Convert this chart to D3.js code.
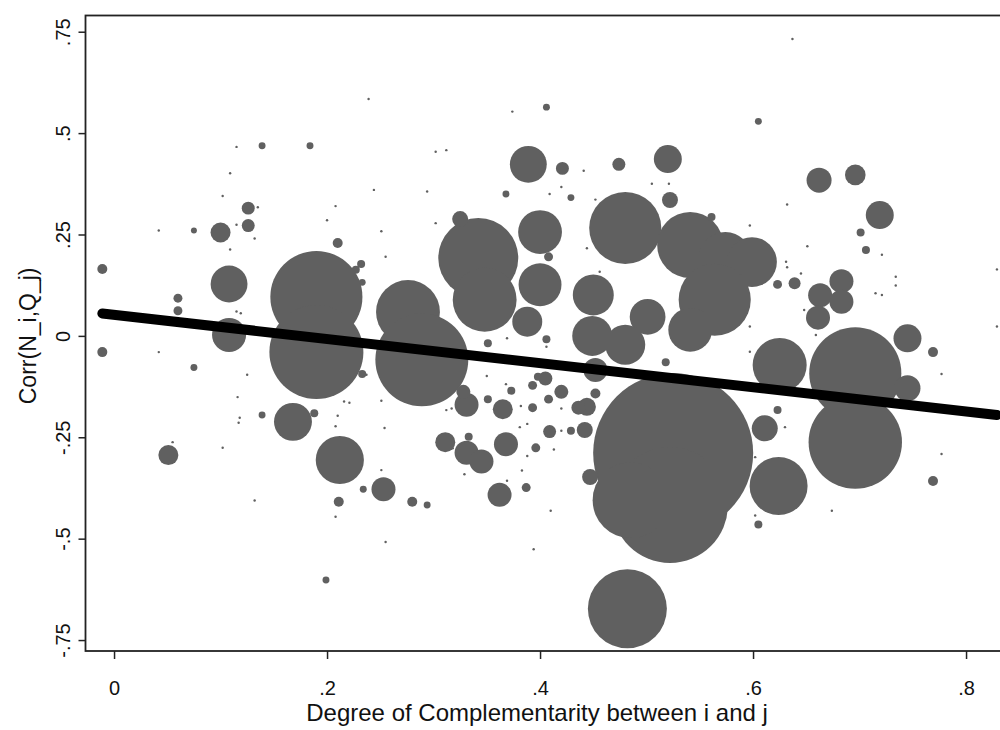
<!DOCTYPE html>
<html>
  <head>
    <title>Corr(N_i,Q_j) vs degree of complementarity</title>
    <script src="https://d3js.org/d3.v7.min.js"></script>
    <style>
      body { margin: 0; background: #fff; }
      text { font-family: "Liberation Sans", Arial, sans-serif; fill: #111; }
    </style>
  </head>
  <body>
    <div id="chart"></div>
    <script>
      // data: [complementarity, corr, weight]
      var largeBubbles = [
        [0.190, 0.096, 212], [0.190, -0.040, 221], [0.276, 0.059, 102], [0.289, -0.059, 216],
        [0.342, 0.192, 160], [0.348, 0.089, 102], [0.480, 0.266, 130], [0.541, 0.224, 109],
        [0.574, 0.192, 68], [0.599, 0.182, 62], [0.564, 0.089, 130], [0.696, -0.092, 212],
        [0.696, -0.262, 218], [0.482, -0.673, 156], [0.525, -0.289, 640], [0.522, -0.417, 336],
        [0.485, -0.405, 144], [0.625, -0.072, 73], [0.624, -0.370, 84]
      ];
      var mediumBubbles = [
        [0.108, 0.128, 34], [0.108, 0.002, 29], [0.100, 0.255, 10], [0.126, 0.315, 4.2],
        [0.126, 0.272, 4.2], [0.051, -0.294, 10], [0.168, -0.212, 36], [0.212, -0.306, 58],
        [0.253, -0.378, 14.4], [0.389, 0.423, 34], [0.400, 0.256, 48], [0.400, 0.126, 46],
        [0.388, 0.035, 22.5], [0.325, 0.288, 6.4], [0.331, -0.170, 14.4], [0.328, -0.138, 4.9],
        [0.365, -0.181, 10], [0.311, -0.262, 10], [0.331, -0.288, 14.4], [0.345, -0.310, 14.4],
        [0.368, -0.267, 14.4], [0.362, -0.392, 14.4], [0.520, 0.436, 19.6], [0.662, 0.384, 15.6],
        [0.696, 0.397, 10.6], [0.719, 0.298, 19.6], [0.501, 0.047, 32], [0.450, 0.101, 42],
        [0.449, 0.000, 40], [0.452, -0.084, 14.4], [0.480, -0.022, 40], [0.541, 0.015, 48],
        [0.611, -0.228, 16.9], [0.745, -0.006, 19.6], [0.745, -0.129, 16.9], [0.683, 0.135, 14.4],
        [0.663, 0.100, 14.4], [0.683, 0.084, 14.4], [0.661, 0.045, 14.4], [0.522, 0.335, 6.4],
        [0.474, 0.423, 4.2], [0.421, 0.413, 4.2], [0.447, -0.348, 6.4], [0.442, -0.232, 6.4],
        [0.444, -0.175, 8.1], [0.436, -0.177, 4.9], [0.405, -0.105, 4.9], [0.420, -0.138, 4.9],
        [0.409, -0.236, 4.2]
      ];
      var smallMarkers = [
        [-0.011, 0.165, 2.5], [-0.011, -0.040, 2.5], [0.139, 0.469, 1.2], [0.184, 0.469, 1.2],
        [0.368, 0.350, 1.2], [0.075, 0.260, 0.9], [0.210, 0.229, 2.5], [0.227, 0.163, 1.6],
        [0.232, 0.177, 1.6], [0.233, 0.132, 1.2], [0.060, 0.093, 2], [0.060, 0.062, 2],
        [0.075, -0.078, 1.2], [0.233, -0.094, 1.6], [0.139, -0.195, 1.2], [0.188, -0.191, 1.6],
        [0.234, -0.378, 1.2], [0.211, -0.409, 2.5], [0.280, -0.409, 2.5], [0.294, -0.417, 1.2],
        [0.199, -0.602, 1.2], [0.351, -0.018, 1.6], [0.351, -0.156, 1.6], [0.373, -0.135, 1.6],
        [0.393, -0.122, 2], [0.393, -0.177, 2], [0.333, -0.249, 1.6], [0.396, -0.276, 2],
        [0.387, -0.374, 2], [0.398, -0.101, 1.6], [0.406, 0.564, 1.2], [0.605, 0.529, 1.2],
        [0.429, 0.341, 1.2], [0.561, 0.293, 1.6], [0.701, 0.255, 1.6], [0.706, 0.212, 1.6],
        [0.408, 0.195, 2], [0.623, 0.127, 2], [0.639, 0.130, 3.6], [0.769, -0.040, 2.5],
        [0.769, -0.358, 2.5], [0.623, -0.183, 1.6], [0.605, -0.465, 1.6], [0.429, -0.234, 1.6],
        [0.406, -0.008, 1.6], [0.452, -0.142, 2.5], [0.518, -0.065, 1.6], [0.408, -0.156, 2]
      ];
      var tinyPoints = [
        [0.239, 0.584], [0.374, 0.553], [0.115, 0.466], [0.302, 0.454], [0.312, 0.458],
        [0.109, 0.401], [0.244, 0.360], [0.294, 0.356], [0.102, 0.345], [0.135, 0.317],
        [0.208, 0.320], [0.200, 0.285], [0.302, 0.278], [0.115, 0.274], [0.042, 0.260],
        [0.132, 0.240], [0.251, 0.258], [0.109, 0.213], [0.255, 0.195], [0.115, 0.060],
        [0.119, 0.056], [0.042, -0.040], [0.125, -0.096], [0.116, -0.151], [0.118, -0.202],
        [0.117, -0.214], [0.055, -0.262], [0.102, -0.276], [0.210, -0.197], [0.208, -0.223],
        [0.216, -0.162], [0.221, -0.165], [0.237, -0.096], [0.251, -0.160], [0.254, -0.227],
        [0.208, -0.446], [0.132, -0.406], [0.255, -0.508], [0.394, -0.526], [0.350, -0.099],
        [0.368, -0.119], [0.382, -0.173], [0.381, -0.225], [0.388, -0.217], [0.318, -0.277],
        [0.329, -0.341], [0.369, -0.357], [0.383, -0.332], [0.388, -0.296], [0.251, -0.331],
        [0.312, -0.183], [0.317, -0.179], [0.637, 0.732], [0.441, 0.407], [0.505, 0.375],
        [0.521, 0.375], [0.409, 0.350], [0.420, 0.367], [0.452, 0.336], [0.632, 0.324],
        [0.597, 0.272], [0.651, 0.221], [0.721, 0.200], [0.829, 0.164], [0.734, 0.146],
        [0.734, 0.124], [0.715, 0.105], [0.721, 0.101], [0.829, 0.023], [0.631, 0.183],
        [0.632, 0.169], [0.645, 0.154], [0.648, 0.064], [0.597, 0.023], [0.659, 0.002],
        [0.777, -0.094], [0.777, -0.291], [0.630, -0.225], [0.674, -0.431], [0.602, -0.443],
        [0.602, -0.299], [0.410, -0.431], [0.444, 0.216], [0.456, 0.158], [0.597, -0.039],
        [0.413, -0.280], [0.420, -0.234], [0.420, -0.179], [0.369, -0.006], [0.406, -0.027]
      ];
      var tinyWeight = 0.15;

      // linear fit
      var fitIntercept = 0.052;
      var fitSlope = -0.298;

      var xTicks = [0, 0.2, 0.4, 0.6, 0.8];
      var xTickLabels = ["0", ".2", ".4", ".6", ".8"];
      var yTicks = [0.75, 0.5, 0.25, 0, -0.25, -0.5, -0.75];
      var yTickLabels = [".75", ".5", ".25", "0", "-.25", "-.5", "-.75"];

      var xTitle = "Degree of Complementarity between i and j";
      var yTitle = "Corr(N_i,Q_j)";

      var width = 1000, height = 730;
      var frame = { left: 85.5, top: 15.5, right: 1003, bottom: 651 };

      var x = d3.scaleLinear().domain([-0.0268, 0.8347]).range([frame.left, frame.right]);
      var y = d3.scaleLinear().domain([-0.777, 0.790]).range([frame.bottom, frame.top]);
      var r = d3.scaleSqrt().domain([0, 640]).range([0, 80]);

      var svg = d3.select("#chart").append("svg")
        .attr("width", width)
        .attr("height", height);

      svg.append("defs").append("clipPath").attr("id", "plotclip")
        .append("rect")
        .attr("x", frame.left).attr("y", frame.top)
        .attr("width", frame.right - frame.left)
        .attr("height", frame.bottom - frame.top);

      var points = largeBubbles.concat(mediumBubbles, smallMarkers,
        tinyPoints.map(function (d) { return [d[0], d[1], tinyWeight]; }));

      var plot = svg.append("g").attr("clip-path", "url(#plotclip)");

      plot.selectAll("circle")
        .data(points)
        .enter()
        .append("circle")
        .attr("cx", function (d) { return x(d[0]); })
        .attr("cy", function (d) { return y(d[1]); })
        .attr("r", function (d) { return Math.max(1.2, r(d[2])); })
        .attr("fill", "#606060");

      // fitted line over the range of x
      var xr = d3.extent(points, function (d) { return d[0]; });
      var line = d3.line()
        .x(function (d) { return x(d); })
        .y(function (d) { return y(fitIntercept + fitSlope * d); });
      plot.append("path")
        .datum(xr)
        .attr("d", line)
        .attr("fill", "none")
        .attr("stroke", "#000")
        .attr("stroke-width", 10)
        .attr("stroke-linecap", "round");

      // frame
      svg.append("rect")
        .attr("x", frame.left).attr("y", frame.top)
        .attr("width", frame.right - frame.left)
        .attr("height", frame.bottom - frame.top)
        .attr("fill", "none")
        .attr("stroke", "#222")
        .attr("stroke-width", 1.8);

      // y axis
      var yAxis = d3.axisLeft(y)
        .tickValues(yTicks)
        .tickSize(7)
        .tickPadding(6)
        .tickFormat(function (d, i) { return yTickLabels[i]; });
      var gy = svg.append("g")
        .attr("transform", "translate(" + frame.left + ",0)")
        .call(yAxis);
      gy.select(".domain").remove();
      gy.selectAll(".tick line").attr("stroke", "#222").attr("stroke-width", 1.5);
      gy.selectAll(".tick text")
        .attr("transform", "rotate(-90)")
        .attr("x", 0)
        .attr("y", -16)
        .attr("dy", 0)
        .attr("text-anchor", "middle")
        .style("font-size", "20px")
        .style("fill", "#111");

      // x axis
      var xAxis = d3.axisBottom(x)
        .tickValues(xTicks)
        .tickSize(8)
        .tickPadding(22)
        .tickFormat(function (d, i) { return xTickLabels[i]; });
      var gx = svg.append("g")
        .attr("transform", "translate(0," + frame.bottom + ")")
        .call(xAxis);
      gx.select(".domain").remove();
      gx.selectAll(".tick line").attr("stroke", "#222").attr("stroke-width", 1.5);
      gx.selectAll(".tick text")
        .style("font-size", "20px")
        .style("fill", "#111");

      // titles
      svg.append("text")
        .attr("x", x(0.4) - 3)
        .attr("y", 721)
        .attr("text-anchor", "middle")
        .style("font-size", "24px")
        .text(xTitle);

      svg.append("text")
        .attr("transform", "translate(36," + y(0) + ") rotate(-90)")
        .attr("text-anchor", "middle")
        .style("font-size", "23px")
        .text(yTitle);
    </script>
  </body>
</html>
